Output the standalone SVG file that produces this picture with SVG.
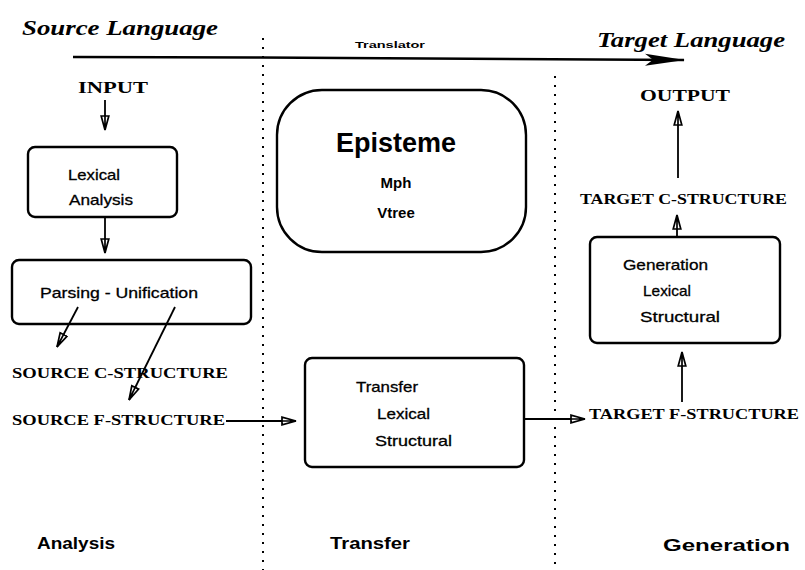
<svg xmlns="http://www.w3.org/2000/svg" width="805" height="570" viewBox="0 0 805 570">
  <style>
    .box { fill: #fff; stroke: #000; stroke-width: 2.4; }
    .lbl { font-family: "Liberation Serif", serif; font-weight: bold; font-size: 15px; fill: #000; }
    .io { font-family: "Liberation Serif", serif; font-weight: bold; font-size: 17px; fill: #000; }
    .lang { font-family: "Liberation Serif", serif; font-weight: bold; font-style: italic; font-size: 20px; fill: #000; }
    .inner { font-family: "Liberation Sans", sans-serif; font-size: 15px; fill: #000; stroke: #000; stroke-width: 0.3; }
    .phase { font-family: "Liberation Sans", sans-serif; font-weight: bold; font-size: 16px; fill: #000; }
    .sep { stroke: #000; stroke-width: 2; stroke-dasharray: 2 7; fill: none; }
    .edge { stroke: #000; stroke-width: 1.8; fill: none; marker-end: url(#open); }
  </style>
  <defs>
    <marker id="open" viewBox="0 0 16 10" refX="15" refY="5" markerWidth="16" markerHeight="10" markerUnits="userSpaceOnUse" orient="auto">
      <path d="M1,5 L15,5 L1,1.2 Z M1,5 L15,5 L1,8.8 Z" fill="#fff" stroke="#000" stroke-width="1.7" stroke-linejoin="miter"/>
    </marker>
    <marker id="solid" viewBox="0 0 40 14" refX="39" refY="7" markerWidth="40" markerHeight="14" markerUnits="userSpaceOnUse" orient="auto">
      <path d="M0,1 L40,7 L0,13 L8,7 Z" fill="#000"/>
    </marker>
  </defs>

  <!-- phase separators -->
  <g id="separators">
    <line class="sep" x1="263" y1="38" x2="263" y2="570"/>
    <line class="sep" x1="555" y1="76" x2="555" y2="570" stroke-dasharray="2 13"/>
  </g>

  <!-- headings and phase labels -->
  <g id="headings">
    <text class="lang" x="22" y="35" textLength="196" lengthAdjust="spacingAndGlyphs">Source Language</text>
    <text class="lang" x="597" y="47" textLength="188" lengthAdjust="spacingAndGlyphs">Target Language</text>
    <text x="355" y="48" font-family="Liberation Sans, sans-serif" font-size="9" font-weight="bold" textLength="70" lengthAdjust="spacingAndGlyphs">Translator</text>
    <text class="phase" x="37" y="549" textLength="78" lengthAdjust="spacingAndGlyphs">Analysis</text>
    <text class="phase" x="330" y="549" textLength="80" lengthAdjust="spacingAndGlyphs">Transfer</text>
    <text class="phase" x="663" y="551" textLength="127" lengthAdjust="spacingAndGlyphs">Generation</text>
  </g>

  <g id="input"><text class="io" x="78" y="93" textLength="70" lengthAdjust="spacingAndGlyphs">INPUT</text></g>

  <g id="lexical-analysis">
    <rect class="box" x="28" y="147" width="149" height="70" rx="7"/>
    <text class="inner" x="68" y="180" textLength="52" lengthAdjust="spacingAndGlyphs">Lexical</text>
    <text class="inner" x="69" y="205" textLength="64" lengthAdjust="spacingAndGlyphs">Analysis</text>
  </g>

  <g id="parsing">
    <rect class="box" x="12" y="260" width="239" height="64" rx="7"/>
    <text class="inner" x="40" y="298" textLength="158" lengthAdjust="spacingAndGlyphs">Parsing - Unification</text>
  </g>

  <g id="source-c"><text class="lbl" x="12" y="378" textLength="216" lengthAdjust="spacingAndGlyphs">SOURCE C-STRUCTURE</text></g>
  <g id="source-f"><text class="lbl" x="12" y="425" textLength="213" lengthAdjust="spacingAndGlyphs">SOURCE F-STRUCTURE</text></g>

  <g id="episteme">
    <rect class="box" x="277" y="90" width="249" height="162" rx="45"/>
    <text x="396" y="152" text-anchor="middle" font-family="Liberation Sans, sans-serif" font-weight="bold" font-size="27">Episteme</text>
    <text x="396" y="188" text-anchor="middle" font-family="Liberation Sans, sans-serif" font-weight="bold" font-size="15">Mph</text>
    <text x="396" y="218" text-anchor="middle" font-family="Liberation Sans, sans-serif" font-weight="bold" font-size="15">Vtree</text>
  </g>

  <g id="transfer">
    <rect class="box" x="305" y="358" width="219" height="109" rx="7"/>
    <text class="inner" x="356" y="392" textLength="62" lengthAdjust="spacingAndGlyphs">Transfer</text>
    <text class="inner" x="377" y="419" textLength="53" lengthAdjust="spacingAndGlyphs">Lexical</text>
    <text class="inner" x="375" y="446" textLength="77" lengthAdjust="spacingAndGlyphs">Structural</text>
  </g>

  <g id="target-f"><text class="lbl" x="589" y="419" textLength="210" lengthAdjust="spacingAndGlyphs">TARGET F-STRUCTURE</text></g>

  <g id="generation">
    <rect class="box" x="590" y="237" width="190" height="106" rx="7"/>
    <text class="inner" x="623" y="270" textLength="85" lengthAdjust="spacingAndGlyphs">Generation</text>
    <text class="inner" x="643" y="296" textLength="48" lengthAdjust="spacingAndGlyphs">Lexical</text>
    <text class="inner" x="640" y="322" textLength="80" lengthAdjust="spacingAndGlyphs">Structural</text>
  </g>

  <g id="target-c"><text class="lbl" x="580" y="204" textLength="207" lengthAdjust="spacingAndGlyphs">TARGET C-STRUCTURE</text></g>

  <g id="output"><text class="io" x="640" y="101" textLength="90" lengthAdjust="spacingAndGlyphs">OUTPUT</text></g>

  <!-- connectors -->
  <g id="connectors">
    <path d="M73,57 L260,57.5 L684,60" stroke="#000" stroke-width="2.6" fill="none" marker-end="url(#solid)"/>
    <line class="edge" x1="105" y1="100" x2="105" y2="130"/>
    <line class="edge" x1="105" y1="217" x2="105" y2="253"/>
    <line class="edge" x1="78" y1="307" x2="57" y2="347"/>
    <line class="edge" x1="175" y1="307" x2="129" y2="400"/>
    <line class="edge" x1="226" y1="421" x2="296" y2="421"/>
    <line class="edge" x1="525" y1="419" x2="585" y2="419"/>
    <line class="edge" x1="682" y1="402" x2="682" y2="352"/>
    <line class="edge" x1="677" y1="237" x2="677" y2="215"/>
    <line class="edge" x1="678" y1="178" x2="678" y2="111"/>
  </g>
</svg>
